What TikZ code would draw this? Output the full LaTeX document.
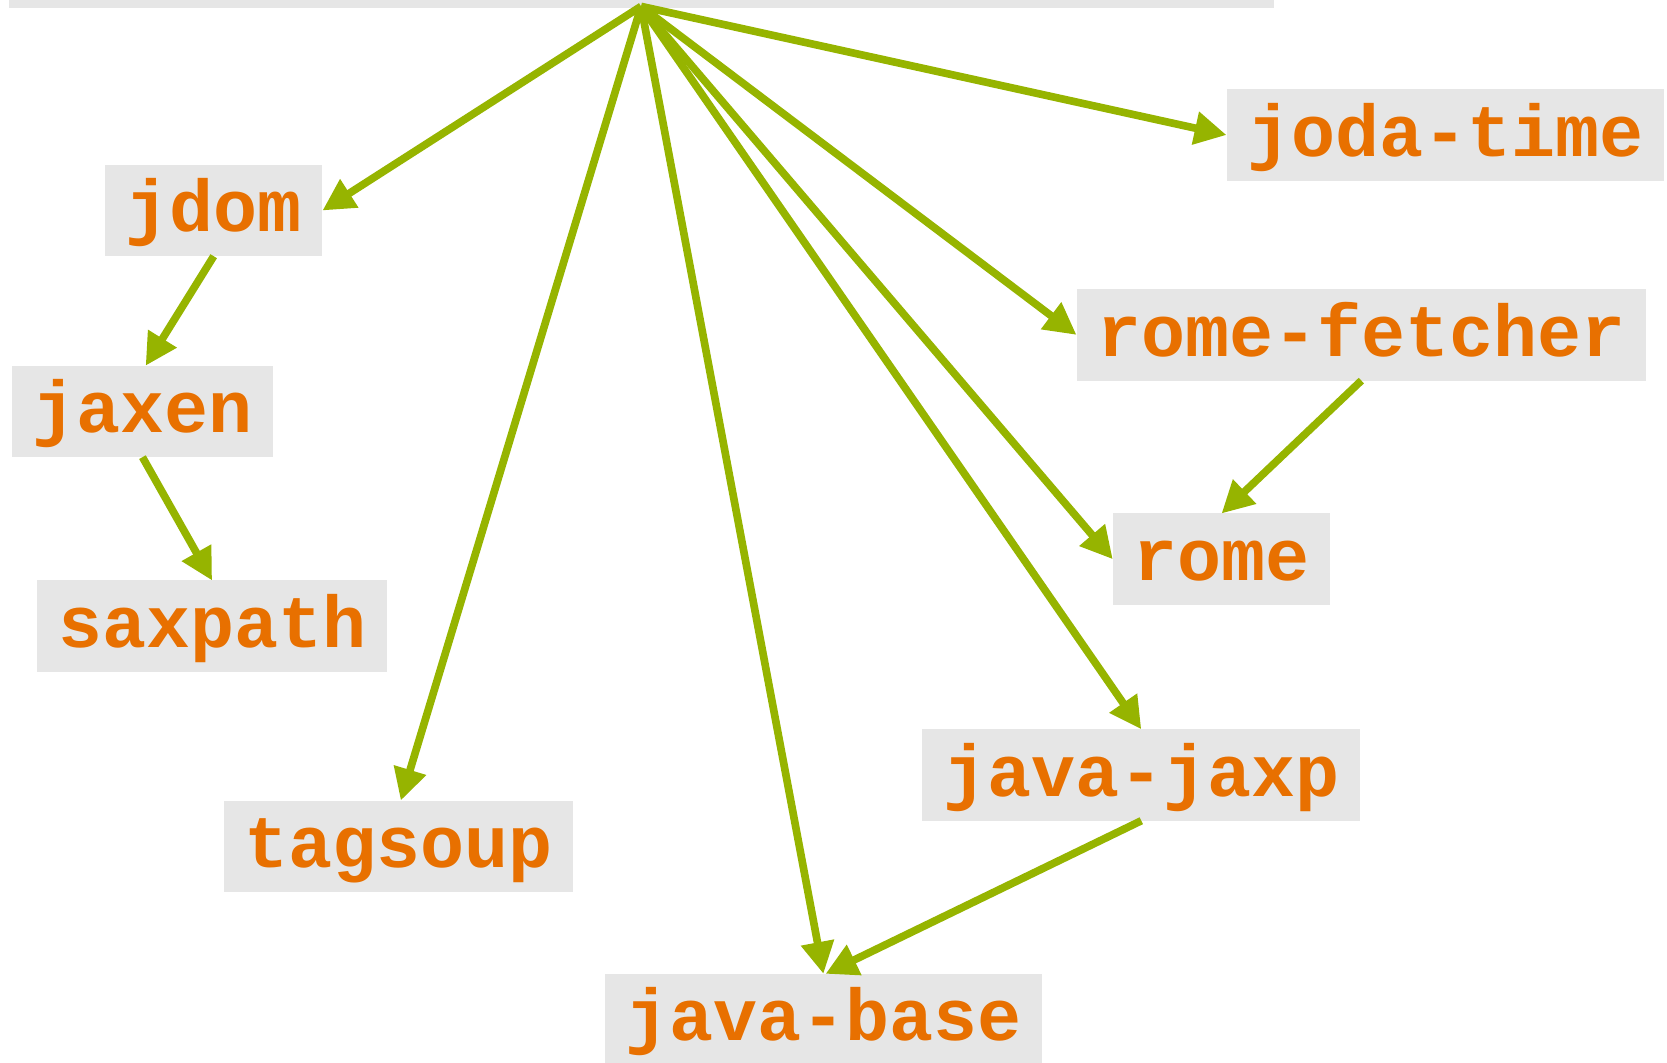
\documentclass[tikz,border=0pt]{standalone}
\usepackage{fontspec}
\setmonofont{Liberation Mono}
\usetikzlibrary{arrows.meta}
\definecolor{boxfill}{HTML}{E6E6E6}
\definecolor{txtorange}{HTML}{E87000}
\definecolor{edgegreen}{HTML}{96B400}
\tikzset{
  pkg/.style={fill=boxfill, text=txtorange, font=\ttfamily\bfseries\fontsize{34.5pt}{40pt}\selectfont,
    inner xsep=9.75pt, inner ysep=0pt, text height=30pt, text depth=10pt, minimum height=43pt, outer sep=0pt},
  dep/.style={draw=edgegreen, line width=3.6pt, -{Triangle[length=15pt,width=15pt]}, shorten <=0pt}
}
\begin{document}
\begin{tikzpicture}[x=0.5pt,y=-0.5pt]
\useasboundingbox (0,0) rectangle (1568,999);
\clip (0,0) rectangle (1568,999);
\node[fill=boxfill, minimum width=595pt, minimum height=40pt, anchor=south, inner sep=0pt, outer sep=0pt] (top) at (603,8) {};
\coordinate (src) at (603,6);
\node[pkg] (jdom) at (201,198) {jdom};
\node[pkg] (jaxen) at (134,387) {jaxen};
\node[pkg] (saxpath) at (199.5,589) {saxpath};
\node[pkg] (tagsoup) at (375,796) {tagsoup};
\node[pkg] (javabase) at (774.5,959) {java-base};
\node[pkg] (javajaxp) at (1073.5,729) {java-jaxp};
\node[pkg] (rome) at (1149,526) {rome};
\node[pkg] (romefetcher) at (1280.5,315) {rome-fetcher};
\node[pkg] (jodatime) at (1359.5,127) {joda-time};
\draw[dep] (src) -- (jdom.east);
\draw[dep] (jdom.south) -- ([xshift=1.5pt]jaxen.north);
\draw[dep] (jaxen.south) -- (saxpath.north);
\draw[dep] (src) -- ([xshift=1pt]tagsoup.north);
\draw[dep] (src) -- (javabase.north);
\draw[dep] (javajaxp.south) -- ([xshift=1pt]javabase.north);
\draw[dep] (src) -- (javajaxp.north);
\draw[dep] (src) -- (rome.west);
\draw[dep] (romefetcher.south) -- (rome.north);
\draw[dep] (src) -- (romefetcher.west);
\draw[dep] (src) -- (jodatime.west);
\end{tikzpicture}
\end{document}
